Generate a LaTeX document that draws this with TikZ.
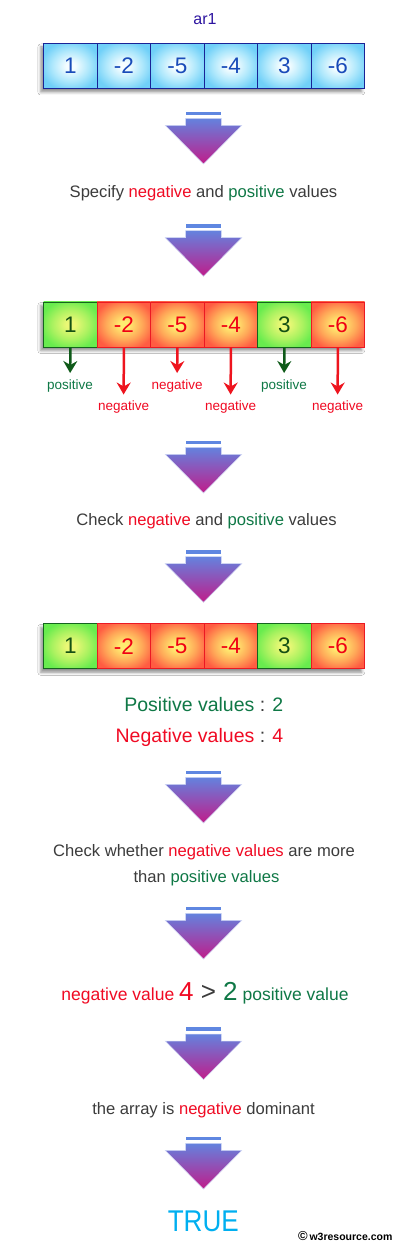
\documentclass[tikz,border=0pt]{standalone}
\usepackage{fontspec}
\usepackage{graphicx}
\setmainfont{Liberation Sans}
\usetikzlibrary{arrows.meta,shadows.blur}
\definecolor{dg}{RGB}{60,60,60}
\definecolor{neg}{RGB}{240,10,35}
\definecolor{pos}{RGB}{15,120,70}
\definecolor{arrowgreen}{RGB}{15,90,25}
\definecolor{arrowred}{RGB}{238,20,30}
\definecolor{arblue}{RGB}{45,20,160}
\definecolor{celltextblue}{RGB}{25,75,185}
\definecolor{cellborderblue}{RGB}{25,35,150}
\definecolor{bA}{RGB}{246,253,255}
\definecolor{bB}{RGB}{175,232,252}
\definecolor{bC}{RGB}{112,208,248}
\definecolor{gA}{RGB}{236,248,118}
\definecolor{gB}{RGB}{170,242,96}
\definecolor{gC}{RGB}{104,236,78}
\definecolor{rA}{RGB}{255,236,112}
\definecolor{rB}{RGB}{255,168,88}
\definecolor{rC}{RGB}{255,92,66}
\definecolor{greenborder}{RGB}{20,100,30}
\definecolor{redborder}{RGB}{235,25,35}
\definecolor{greentext}{RGB}{20,80,20}
\definecolor{redtext}{RGB}{240,0,20}
\definecolor{truec}{RGB}{0,175,240}
\definecolor{arrtop}{RGB}{100,130,222}
\definecolor{arrbot}{RGB}{192,28,138}
\definecolor{barblue}{RGB}{95,135,225}
\pgfdeclareradialshading{blueshade}{\pgfpoint{0bp}{0bp}}{color(0bp)=(bA); color(4bp)=(bA); color(17bp)=(bB); color(28bp)=(bC); color(50bp)=(bC)}
\pgfdeclareradialshading{greenshade}{\pgfpoint{0bp}{0bp}}{color(0bp)=(gA); color(4bp)=(gA); color(17bp)=(gB); color(28bp)=(gC); color(50bp)=(gC)}
\pgfdeclareradialshading{redshade}{\pgfpoint{0bp}{0bp}}{color(0bp)=(rA); color(4bp)=(rA); color(17bp)=(rB); color(29bp)=(rC); color(50bp)=(rC)}
\tikzset{
  cell/.style={draw, line width=0.8pt, minimum width=53.5pt, minimum height=45pt,
    inner sep=0pt, anchor=north west, font=\fontsize{22.5}{23}\selectfont},
  bcell/.style={cell, draw=cellborderblue, shade, shading=blueshade, text=celltextblue},
  gcell/.style={cell, draw=greenborder, shade, shading=greenshade, text=greentext},
  rcell/.style={cell, draw=redborder, shade, shading=redshade, text=redtext},
  arrshadow/.style={fill=white, blur shadow={shadow xshift=-2.5pt, shadow yshift=-4pt, shadow blur radius=3pt, shadow opacity=45}},
  lab/.style={anchor=base, inner sep=0pt, font=\fontsize{13.5}{14}\selectfont},
  garr/.style={draw=arrowgreen, line width=2.5pt, shorten >=6pt, -{Stealth[length=12pt,width=14pt,inset=4pt]}},
  rarr/.style={draw=arrowred, line width=2.5pt, shorten >=6pt, -{Stealth[length=12pt,width=14pt,inset=4pt]}},
  txt/.style={anchor=base, inner sep=0pt, text=dg, font=\fontsize{16.6}{20}\selectfont},
  big/.style={anchor=base, inner sep=0pt, font=\fontsize{19.5}{22}\selectfont}
}
\newcommand{\bigdown}[1]{%
  \fill[barblue] (185.7,#1) rectangle (221.3,#1+3.7);
  \shade[top color=arrtop, bottom color=arrbot, draw=arrtop!30, line width=0.5pt]
    (185.7,#1+6.7) -- (221.3,#1+6.7) -- (221.3,#1+13.7) -- (241.7,#1+13.7)
    -- (203.5,#1+52.3) -- (165.3,#1+13.7) -- (185.7,#1+13.7) -- cycle;
}
\begin{document}
\begin{tikzpicture}[x=1pt,y=-1pt]
\fill[white] (0,0) rectangle (405,1252);
\useasboundingbox (0,0) rectangle (405,1252);

% title
\node[anchor=base, inner sep=0pt, text=arblue, font=\fontsize{16}{18}\selectfont] (ar) at (205,25) {ar1};

% array 1
\path[arrshadow] (43.3,43) rectangle (364.3,88);
\node[bcell] (a1) at (43.3,43) {1};
\node[bcell] (a2) at (96.8,43) {-2};
\node[bcell] (a3) at (150.3,43) {-5};
\node[bcell] (a4) at (203.8,43) {-4};
\node[bcell] (a5) at (257.3,43) {3};
\node[bcell] (a6) at (310.8,43) {-6};

\bigdown{111.7}
\node[txt] (t1) at (203.5,197) {Specify \textcolor{neg}{negative} and \textcolor{pos}{positive} values};
\bigdown{224}

% array 2
\path[arrshadow] (43.3,301.5) rectangle (364.3,346.5);
\node[gcell] (b1) at (43.3,301.5) {1};
\node[rcell] (b2) at (96.8,301.5) {-2};
\node[rcell] (b3) at (150.3,301.5) {-5};
\node[rcell] (b4) at (203.8,301.5) {-4};
\node[gcell] (b5) at (257.3,301.5) {3};
\node[rcell] (b6) at (310.8,301.5) {-6};

\node[lab, text=pos] (l1) at (70.05,389) {positive};
\node[lab, text=neg] (l2) at (123.55,410.5) {negative};
\node[lab, text=neg] (l3) at (177.05,389) {negative};
\node[lab, text=neg] (l4) at (230.55,410.5) {negative};
\node[lab, text=pos] (l5) at (284.05,389) {positive};
\node[lab, text=neg] (l6) at (337.55,410.5) {negative};
\draw[garr] (b1.south) -- (l1.north);
\draw[rarr] (b2.south) -- (l2.north);
\draw[rarr] (b3.south) -- (l3.north);
\draw[rarr] (b4.south) -- (l4.north);
\draw[garr] (b5.south) -- (l5.north);
\draw[rarr] (b6.south) -- (l6.north);

\bigdown{440.7}
\node[txt] (t2) at (206.5,525) {Check \textcolor{neg}{negative} and \textcolor{pos}{positive} values};
\bigdown{550}

% array 3
\path[arrshadow] (43.3,623.3) rectangle (364.3,668.3);
\node[gcell] (c1) at (43.3,623.3) {1};
\node[rcell] (c2) at (96.8,623.3) {-2};
\node[rcell] (c3) at (150.3,623.3) {-5};
\node[rcell] (c4) at (203.8,623.3) {-4};
\node[gcell] (c5) at (257.3,623.3) {3};
\node[rcell] (c6) at (310.8,623.3) {-6};

\node[big, anchor=base east, text=pos] (pv) at (283.5,711) {Positive values \textcolor{dg}{:} 2};
\node[big, anchor=base east, text=neg] (nv) at (283.5,742.3) {Negative values \textcolor{dg}{:} 4};

\bigdown{770.7}
\node[txt] (t3) at (204,856) {Check whether \textcolor{neg}{negative values} are more};
\node[txt] (t4) at (206.5,882) {than \textcolor{pos}{positive values}};
\bigdown{906.7}
\node[anchor=base, inner sep=0pt, font=\fontsize{17.5}{20}\selectfont] (cmp) at (205,1000.7)
  {\textcolor{neg}{negative value} {\fontsize{26}{28}\selectfont\textcolor{neg}{4} \textcolor{dg}{>} \textcolor{pos}{2}} \textcolor{pos}{positive value}};
\bigdown{1027.3}
\node[txt] (t5) at (203.5,1114) {the array is \textcolor{neg}{negative} dominant};
\bigdown{1136.7}
\node[anchor=base, inner sep=0pt, text=truec, font=\fontsize{30}{32}\selectfont] (tr) at (203.3,1231.7) {\scalebox{0.87}[1]{TRUE}};
\node[anchor=base west, inner sep=0pt, text=black, font=\fontsize{10.5}{12}\selectfont\bfseries] (cp) at (298,1240) {{\fontsize{13}{12}\selectfont\textcopyright}\,w3resource.com};
\end{tikzpicture}
\end{document}
